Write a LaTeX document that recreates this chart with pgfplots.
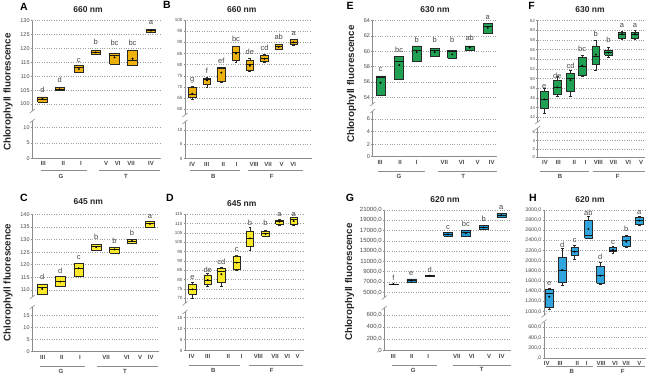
\documentclass[border=0pt]{standalone}
\usepackage{pgfplots}
\pgfplotsset{compat=1.18}
\usepackage{fontspec}
\setmainfont{Liberation Sans}
\definecolor{colA}{RGB}{238,178,14}
\definecolor{colC}{RGB}{250,234,40}
\definecolor{colE}{RGB}{32,160,82}
\definecolor{colG}{RGB}{30,150,208}
\definecolor{colH}{RGB}{48,165,222}
\definecolor{edge}{RGB}{40,40,40}
\definecolor{axg}{RGB}{140,140,140}
\definecolor{txt}{RGB}{70,70,70}
\newcommand{\fs}[1]{\fontsize{#1}{#1}\selectfont}
\pgfplotsset{
  base/.style={scale only axis, clip=false, anchor=south west,
    axis line style={-, draw=axg, line width=0.6pt},
    ymajorgrids, grid style={dotted, gray!75, line width=0.5pt},
    tick align=outside, major tick length=1.5pt,
    ytick style={draw=axg, line width=0.5pt},
    axis y line*=left, scaled y ticks=false,
    /pgf/number format/assume math mode=true,
    yticklabel style={text=txt, inner sep=1pt}},
  up/.style={base, axis x line=none, xtick=\empty},
  lo/.style={base, axis x line*=bottom, xtick style={draw=none},
     xticklabel style={font=\bfseries\fs{6}, text=txt, inner sep=1pt, yshift=-0.8pt}},
  lett/.style={only marks, mark=none, point meta=explicit symbolic, nodes near coords,
     nodes near coords style={font=\fs{7.5}, text=txt, inner sep=0pt, yshift=-2.6pt}},
}
% #1 colour, #2 position, #3 lower whisker, #4 lower quartile, #5 median, #6 upper quartile, #7 upper whisker, #8 mean
\newcommand{\bx}[8]{%
  \pgfmathsetmacro{\xl}{#2-\hw}\pgfmathsetmacro{\xr}{#2+\hw}%
  \pgfmathsetmacro{\cl}{#2-1.4}\pgfmathsetmacro{\cr}{#2+1.4}%
  \edef\doit{%
   \noexpand\addplot[draw=edge, line width=0.5pt, unbounded coords=jump, forget plot] coordinates {(#2,#3) (#2,#4) (#2,nan) (#2,#6) (#2,#7) (#2,nan) (\cl,#3) (\cr,#3) (\cl,nan) (\cl,#7) (\cr,#7)};
   \noexpand\addplot[fill=#1, draw=edge, line width=0.55pt, forget plot] coordinates {(\xl,#4) (\xr,#4) (\xr,#6) (\xl,#6) (\xl,#4)};
   \noexpand\addplot[draw=black!90, line width=0.8pt, forget plot] coordinates {(\xl,#5) (\xr,#5)};
   \noexpand\addplot[only marks, mark=*, mark size=0.75pt, black, forget plot] coordinates {(#2,#8)};
  }\doit}
\tikzset{
  ttl/.style={font=\bfseries\fs{8.5}, text=black!85},
  plet/.style={font=\bfseries\fs{10.5}, text=black},
  grp/.style={font=\bfseries\fs{6}, text=txt},
  gl/.style={draw=axg, line width=0.7pt},
  brk/.style={draw=axg, line width=0.6pt},
  yl/.style={rotate=90, font=\bfseries\fs{9.8}, text=black!85}
}
\begin{document}
\begin{tikzpicture}
\useasboundingbox (0pt,0pt) rectangle (650pt,377pt);
% ================= A =================
\begin{axis}[up, at={(32.3pt,266pt)}, width=127.7pt, height=90.3pt,
  xmin=32.3, xmax=160, ymin=97.48, ymax=130, ytick={100,105,...,130}, yticklabel style={font=\fs{5.5}}]
\def\hw{4.75}
\bx{colA}{42.5}{100.6}{100.6}{101.8}{102.6}{102.6}{101.8}
\bx{colA}{59.7}{104.8}{104.8}{105.3}{105.9}{105.9}{105.3}
\bx{colA}{78.8}{111.3}{111.3}{113.1}{113.8}{113.8}{112.6}
\bx{colA}{95.7}{117.9}{117.9}{118.6}{119.2}{119.2}{118.6}
\bx{colA}{114.5}{114.3}{114.3}{117.6}{118.2}{118.2}{116.8}
\bx{colA}{132.5}{113.8}{113.8}{115.7}{119.4}{119.4}{116.3}
\bx{colA}{151}{125.9}{125.9}{126.4}{126.9}{126.9}{126.4}
\addplot[lett] coordinates {(42.5,105.0)[d] (59.7,108.4)[d] (78.8,115.8)[c] (95.7,122.1)[b] (114.5,121.8)[bc] (132.5,121.8)[bc] (151,129.3)[a]};
\end{axis}
\begin{axis}[lo, at={(32.3pt,218.7pt)}, width=127.7pt, height=37.3pt,
  xmin=32.3, xmax=160, ymin=0, ymax=12.19, ytick={0,5,10}, yticklabel style={font=\fs{5.5}},
  xtick={43.3,63.3,81,106,117.7,131,151}, xticklabels={III,II,I,V,VI,VII,IV}]
\end{axis}
% ================= B =================
\begin{axis}[up, at={(185pt,262pt)}, width=126.7pt, height=95pt,
  xmin=185, xmax=311.7, ymin=57.45, ymax=100, ytick={60,65,...,100}, yticklabel style={font=\fs{4.5}}]
\def\hw{3.75}
\bx{colA}{192.3}{64.5}{65.2}{66.8}{69.8}{70.2}{67.0}
\bx{colA}{207}{70.1}{71.2}{73.3}{73.9}{74.5}{73.0}
\bx{colA}{221.3}{72.0}{72.4}{78.1}{78.7}{79.0}{76.4}
\bx{colA}{236}{80.9}{82.1}{85.4}{88.1}{88.4}{85.0}
\bx{colA}{249.8}{77.0}{77.5}{79.9}{81.8}{82.8}{79.5}
\bx{colA}{264.5}{81.0}{81.3}{82.6}{84.0}{84.6}{82.6}
\bx{colA}{278.7}{86.8}{87.0}{88.0}{89.1}{89.1}{88.0}
\bx{colA}{293.7}{88.8}{89.1}{90.0}{91.2}{91.5}{90.0}
\addplot[lett] coordinates {(192.3,72.7)[g] (207,77.2)[f] (221.3,81.6)[ef] (236,91.3)[bc] (249.8,85.5)[de] (264.5,87.3)[cd] (278.7,92.1)[ab] (293.7,94.0)[a]};
\end{axis}
\begin{axis}[lo, at={(185pt,218.3pt)}, width=126.7pt, height=36.7pt,
  xmin=185, xmax=311.7, ymin=0, ymax=12.79, ytick={0,5,10}, yticklabel style={font=\fs{4.5}},
  xtick={192.3,206.7,223.3,236.7,254,268,281.7,293.3}, xticklabels={IV,III,II,I,VIII,VII,V,VI}]
\end{axis}
% ================= C =================
\begin{axis}[up, at={(32.3pt,80pt)}, width=127pt, height=82.7pt,
  xmin=32.3, xmax=159.3, ymin=107.2, ymax=140, ytick={110,115,...,140}, yticklabel style={font=\fs{5.5}}]
\def\hw{4.75}
\bx{colC}{42.2}{108.4}{108.4}{110.9}{112.4}{112.4}{110.4}
\bx{colC}{60.3}{111.3}{111.3}{113.3}{115.3}{115.3}{113.3}
\bx{colC}{78.7}{115.3}{115.3}{118.6}{120.6}{120.6}{118.6}
\bx{colC}{96.2}{125.9}{125.9}{127.2}{128.1}{128.1}{127.0}
\bx{colC}{114.5}{124.5}{124.5}{126.1}{127.1}{127.1}{126.1}
\bx{colC}{132}{128.5}{128.5}{129.4}{130.1}{130.1}{129.4}
\bx{colC}{150}{134.8}{134.8}{136.4}{137.1}{137.1}{136.2}
\addplot[lett] coordinates {(42.2,114.9)[d] (60.3,117.5)[d] (78.7,122.8)[c] (96.2,130.8)[b] (114.5,129.4)[b] (132,132.5)[b] (150,139.3)[a]};
\end{axis}
\begin{axis}[lo, at={(32.3pt,25.3pt)}, width=127pt, height=44.7pt,
  xmin=32.3, xmax=159.3, ymin=0, ymax=18.6, ytick={0,5,10,15}, yticklabel style={font=\fs{5.5}},
  xtick={42.7,61.7,80,106,126.7,140,150.7}, xticklabels={III,II,I,VII,VI,V,IV}]
\end{axis}
% ================= D =================
\begin{axis}[up, at={(185pt,73.5pt)}, width=118.3pt, height=89.2pt,
  xmin=185, xmax=303.3, ymin=67.2, ymax=115, ytick={70,75,...,115}, yticklabel style={font=\fs{4.5}}]
\def\hw{3.75}
\bx{colC}{192.5}{70.0}{72.1}{74.8}{77.5}{78.4}{74.8}
\bx{colC}{207.7}{76.3}{77.5}{79.8}{82.5}{83.4}{79.8}
\bx{colC}{221.3}{76.3}{78.4}{84.6}{86.1}{86.4}{82.9}
\bx{colC}{236.7}{85.2}{85.7}{89.1}{92.7}{93.2}{89.1}
\bx{colC}{250}{95.5}{97.7}{102.1}{106.1}{107.9}{102.1}
\bx{colC}{265.5}{103.0}{103.4}{104.5}{105.7}{106.6}{104.5}
\bx{colC}{279.5}{109.3}{109.8}{111.1}{112.0}{112.3}{111.1}
\bx{colC}{293.7}{109.3}{109.8}{112.3}{113.2}{113.6}{111.4}
\addplot[lett] coordinates {(192.5,81.1)[e] (207.7,85.2)[de] (221.3,89.1)[cd] (236.7,96.4)[c] (250,110.2)[b] (265.5,110.2)[b] (279.5,115)[a] (293.7,115)[a]};
\end{axis}
\begin{axis}[lo, at={(185pt,26.3pt)}, width=118.3pt, height=38.7pt,
  xmin=185, xmax=303.3, ymin=0, ymax=17.6, ytick={0,5,10,15}, yticklabel style={font=\fs{4.5}},
  xtick={191.7,207.7,228.3,241.7,258.3,275,287.3,297.7}, xticklabels={IV,III,II,I,VIII,VII,VI,V}]
\end{axis}
% ================= E =================
\begin{axis}[up, at={(372.7pt,273pt)}, width=124pt, height=83.3pt,
  xmin=372.7, xmax=496.7, ymin=53.13, ymax=64, ytick={54,56,...,64}, yticklabel style={font=\fs{5.5}}]
\def\hw{4.5}
\bx{colE}{380.5}{54.3}{54.3}{56.6}{56.8}{56.8}{55.9}
\bx{colE}{399.2}{56.3}{56.3}{58.7}{59.3}{59.3}{58.2}
\bx{colE}{416.7}{58.7}{58.7}{60.1}{60.7}{60.7}{59.9}
\bx{colE}{434.7}{59.4}{59.4}{60.1}{60.4}{60.4}{59.9}
\bx{colE}{452.2}{59.1}{59.1}{60.0}{60.1}{60.1}{59.6}
\bx{colE}{469.7}{60.2}{60.2}{60.6}{60.7}{60.7}{60.5}
\bx{colE}{487.7}{62.4}{62.4}{63.2}{63.6}{63.6}{63.1}
\addplot[lett] coordinates {(380.5,57.7)[c] (399.2,60.2)[bc] (416.7,61.4)[b] (434.7,61.4)[b] (452.2,61.4)[b] (469.7,61.7)[ab] (487.7,64.4)[a]};
\end{axis}
\begin{axis}[lo, at={(372.7pt,220.3pt)}, width=124pt, height=45.7pt,
  xmin=372.7, xmax=496.7, ymin=0, ymax=7.28, ytick={0,2,4,6}, yticklabel style={font=\fs{5.5}},
  xtick={380,400,416.7,444.3,461.7,477.7,491.7}, xticklabels={III,II,I,VII,VI,V,IV}]
\end{axis}
% ================= F =================
\begin{axis}[up, at={(537.7pt,255pt)}, width=107.3pt, height=101.3pt,
  xmin=537.7, xmax=645, ymin=41.03, ymax=62, ytick={42,44,...,62}, yticklabel style={font=\fs{4.3}}]
\def\hw{3.75}
\bx{colE}{544.2}{42.8}{43.9}{45.7}{47.3}{48.0}{45.7}
\bx{colE}{557.2}{46.3}{46.8}{48.2}{49.7}{50.4}{48.2}
\bx{colE}{570.5}{46.3}{47.3}{50.1}{51.1}{51.7}{49.7}
\bx{colE}{582.2}{50.4}{50.8}{52.5}{54.4}{54.9}{52.7}
\bx{colE}{595.8}{51.7}{53.0}{54.7}{56.8}{57.9}{55.0}
\bx{colE}{608.5}{54.4}{54.9}{55.4}{55.9}{56.5}{55.4}
\bx{colE}{622}{58.1}{58.3}{59.2}{59.6}{59.9}{59.2}
\bx{colE}{635}{58.1}{58.3}{59.2}{59.6}{60.0}{59.2}
\addplot[lett] coordinates {(544.2,48.5)[e] (557.2,50.6)[de] (570.5,52.6)[cd] (582.2,56.1)[bc] (595.8,59.2)[b] (608.5,58.0)[b] (622,61.1)[a] (635,61.1)[a]};
\end{axis}
\begin{axis}[lo, at={(537.7pt,219.7pt)}, width=107.3pt, height=29.3pt,
  xmin=537.7, xmax=645, ymin=0, ymax=7.03, ytick={0,2,4,6}, yticklabel style={font=\fs{4.3}},
  xtick={545,558.3,574.3,585.7,598.3,613.3,628.3,641}, xticklabels={IV,III,II,I,VIII,VII,VI,V}]
\end{axis}
% ================= G =================
\begin{axis}[up, at={(384.3pt,79.5pt)}, width=126.4pt, height=87.5pt,
  xmin=384.3, xmax=510.7, ymin=3989, ymax=21000,
  ytick={5000,7000,9000,11000,13000,15000,17000,19000,21000},
  yticklabels={{5000,0},{7000,0},{9000,0},{11000,0},{13000,0},{15000,0},{17000,0},{19000,0},{21000,0}},
  yticklabel style={font=\fs{6}}]
\def\hw{4.5}
\bx{colG}{393.3}{6550}{6550}{6600}{6650}{6650}{6600}
\bx{colG}{411.3}{6940}{6940}{7260}{7586}{7586}{7260}
\bx{colG}{429.7}{8150}{8150}{8235}{8300}{8300}{8235}
\bx{colG}{448}{15946}{15946}{16270}{16594}{16594}{16270}
\bx{colG}{465.8}{15946}{15946}{16594}{17112}{17112}{16500}
\bx{colG}{483.7}{17250}{17250}{17630}{17948}{17948}{17630}
\bx{colG}{501.3}{19581}{19581}{20000}{20358}{20358}{20000}
\addplot[lett] coordinates {(393.3,7716)[f] (411.3,8688)[e] (429.7,9336)[d] (448,17630)[c] (465.8,18278)[bc] (483.7,19190)[b] (501.3,21640)[a]};
\end{axis}
\begin{axis}[lo, at={(384.3pt,26.3pt)}, width=126.4pt, height=42.7pt,
  xmin=384.3, xmax=510.7, ymin=0, ymax=717.6, ytick={0,200,400,600},
  yticklabels={{,0},{200,0},{400,0},{600,0}}, yticklabel style={font=\fs{6}},
  xtick={393.3,411.7,428.3,456.7,471.7,489,501.7}, xticklabels={III,II,I,VII,VI,V,IV}]
\end{axis}
% ================= H =================
\begin{axis}[up, at={(544pt,61.5pt)}, width=101pt, height=105.5pt,
  xmin=544, xmax=645, ymin=925, ymax=3000,
  ytick={1000,1200,1400,1600,1800,2000,2200,2400,2600,2800,3000},
  yticklabels={{1000,0},{1200,0},{1400,0},{1600,0},{1800,0},{2000,0},{2200,0},{2400,0},{2600,0},{2800,0},{3000,0}},
  yticklabel style={font=\fs{5.2}}]
\def\hw{3.75}
\bx{colH}{549.3}{1053}{1079}{1361}{1439}{1459}{1295}
\bx{colH}{562.2}{1525}{1571}{1820}{2062}{2246}{1820}
\bx{colH}{574.7}{2036}{2102}{2180}{2266}{2311}{2180}
\bx{colH}{588.3}{2443}{2443}{2508}{2803}{2880}{2626}
\bx{colH}{600.3}{1538}{1557}{1721}{1898}{1970}{1708}
\bx{colH}{613}{2148}{2180}{2213}{2259}{2279}{2213}
\bx{colH}{626.3}{2259}{2292}{2410}{2475}{2508}{2377}
\bx{colH}{639.2}{2700}{2718}{2803}{2849}{2880}{2790}
\addplot[lett] coordinates {(549.3,1557)[e] (562.2,2311)[d] (574.7,2410)[c] (588.3,2934)[ab] (600.3,2082)[d] (613,2377)[c] (626.3,2620)[b] (639.2,2967)[a]};
\end{axis}
\begin{axis}[lo, at={(544pt,18.7pt)}, width=101pt, height=36.8pt,
  xmin=544, xmax=645, ymin=0, ymax=712, ytick={0,200,400,600},
  yticklabels={{,0},{200,0},{400,0},{600,0}}, yticklabel style={font=\fs{5.2}},
  xtick={546.7,560,577.3,586.7,601,615,626,639.3}, xticklabels={IV,III,II,I,VIII,VI,VII,V}]
\end{axis}
% ================= decorations =================
\foreach \x/\y in {32.3/266,32.3/256,185/262,185/255,32.3/80,32.3/70,185/73.5,185/65,372.7/273,372.7/266,537.7/255,537.7/249,384.3/79.5,384.3/69,544/61.5,544/55.5}
  \draw[brk] (\x pt-2.5pt,\y pt-2pt) -- (\x pt+2.5pt,\y pt+2pt);
\draw[gl] (40.7pt,206.3pt) -- (87.3pt,206.3pt);  \node[grp] at (61pt,201pt) {G};
\draw[gl] (98.7pt,206.3pt) -- (160pt,206.3pt);   \node[grp] at (126pt,201pt) {T};
\draw[gl] (190pt,207pt) -- (240pt,207pt);        \node[grp] at (213.3pt,200.5pt) {B};
\draw[gl] (248.3pt,207pt) -- (303.3pt,207pt);    \node[grp] at (271.7pt,200.5pt) {F};
\draw[gl] (40pt,10.3pt) -- (85pt,10.3pt);        \node[grp] at (61pt,5.3pt) {G};
\draw[gl] (97.3pt,10.3pt) -- (158.3pt,10.3pt);   \node[grp] at (125pt,5.3pt) {T};
\draw[gl] (189.3pt,12pt) -- (240pt,12pt);        \node[grp] at (213.3pt,7pt) {B};
\draw[gl] (249.3pt,12pt) -- (303.3pt,12pt);      \node[grp] at (271.7pt,7pt) {F};
\draw[gl] (378.3pt,205.3pt) -- (425pt,205.3pt);  \node[grp] at (399pt,200.3pt) {G};
\draw[gl] (437.7pt,205.3pt) -- (496.7pt,205.3pt);\node[grp] at (463.3pt,200.3pt) {T};
\draw[gl] (540pt,205.3pt) -- (589pt,205.3pt);    \node[grp] at (560pt,200.8pt) {B};
\draw[gl] (593.3pt,205.3pt) -- (645pt,205.3pt);  \node[grp] at (617.7pt,200.8pt) {F};
\draw[gl] (391.7pt,12pt) -- (437.3pt,12pt);      \node[grp] at (413.3pt,7pt) {G};
\draw[gl] (452.7pt,12pt) -- (510.7pt,12pt);      \node[grp] at (481.7pt,7.5pt) {T};
\draw[gl] (546pt,10.3pt) -- (592.7pt,10.3pt);    \node[grp] at (571.7pt,5.3pt) {B};
\draw[gl] (596.7pt,10.3pt) -- (645pt,10.3pt);    \node[grp] at (622.7pt,5.3pt) {F};
\node[ttl] at (88pt,367.7pt) {660 nm};
\node[ttl] at (241.7pt,367pt) {660 nm};
\node[ttl] at (88.3pt,175.3pt) {645 nm};
\node[ttl] at (241.7pt,173.7pt) {645 nm};
\node[ttl] at (435pt,367pt) {630 nm};
\node[ttl] at (590pt,367pt) {630 nm};
\node[ttl] at (445pt,177pt) {620 nm};
\node[ttl] at (590pt,177pt) {620 nm};
\node[plet] at (24pt,370.3pt) {A};
\node[plet] at (167pt,372pt) {B};
\node[plet] at (24pt,178.7pt) {C};
\node[plet] at (170pt,178.7pt) {D};
\node[plet] at (350pt,371pt) {E};
\node[plet] at (531.5pt,371pt) {F};
\node[plet] at (350pt,178.7pt) {G};
\node[plet] at (533pt,178.7pt) {H};
\node[yl] at (8pt,285pt) {Chlorophyll fluorescence};
\node[yl] at (8pt,94.5pt) {Chlorophyll fluorescence};
\node[yl] at (351.7pt,293pt) {Chlorophyll fluorescence};
\node[yl] at (349.7pt,95pt) {Chlorophyll fluorescence};
\end{tikzpicture}
\end{document}
